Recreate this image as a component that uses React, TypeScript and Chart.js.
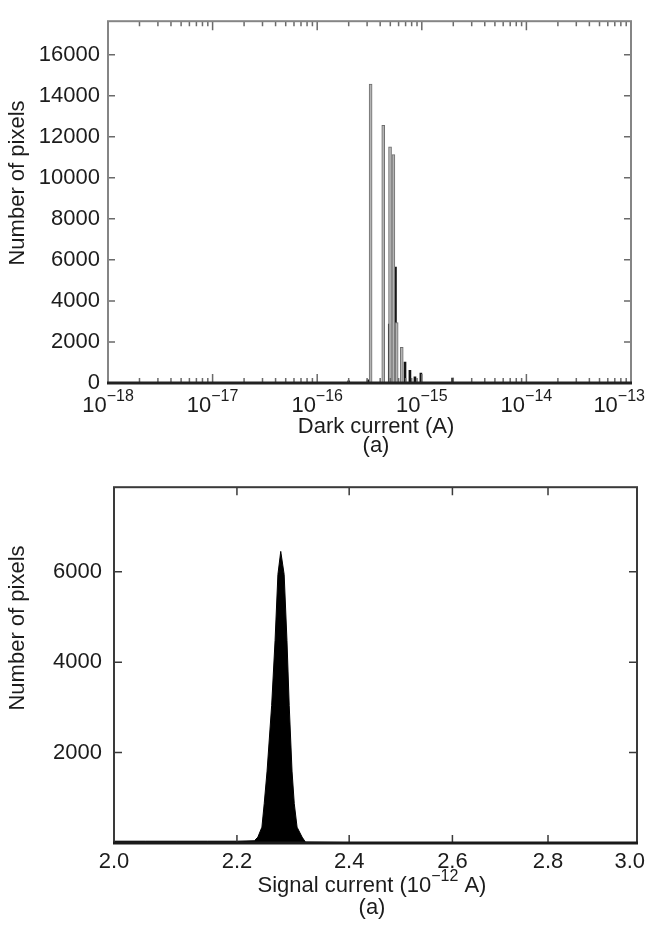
import React, { useEffect, useRef } from "react";
import { Chart, registerables } from "chart.js";

Chart.register(...registerables);

const FONT_FAMILY = "'Liberation Sans', Arial, Helvetica, sans-serif";
const TEXT_COLOR = "#1c1c1c";

// ---------- top histogram: dark current ----------
const DARK_DECADES = [-18, -17, -16, -15, -14, -13];
const DARK_Y_TICKS = [0, 2000, 4000, 6000, 8000, 10000, 12000, 14000, 16000];
const DARK_Y_MAX = 17630;
const GRAY_SPIKE_CURRENT = [3.24e-16, 4.28e-16, 4.97e-16, 5.35e-16, 5.75e-16, 6.43e-16];
const GRAY_SPIKE_PIXELS = [14560, 12550, 11510, 11130, 2940, 1740];
const BLACK_SPIKE_CURRENT = [2.0e-16, 3.06e-16, 4.89e-16, 5.6e-16, 6.91e-16, 7.7e-16, 8.6e-16, 9.8e-16, 1.97e-15];
const BLACK_SPIKE_PIXELS = [100, 150, 2870, 5650, 1020, 620, 300, 480, 240];

// ---------- bottom histogram: signal current ----------
const SIGNAL_X_TICKS = [2.0, 2.2, 2.4, 2.6, 2.8, 3.0];
const SIGNAL_Y_TICKS = [2000, 4000, 6000];
const SIGNAL_Y_MAX = 7870;
const SIGNAL_CURRENT = [2.0, 2.05, 2.1, 2.15, 2.2, 2.23, 2.236, 2.243, 2.247, 2.252, 2.26, 2.266, 2.271, 2.276, 2.282, 2.287, 2.291, 2.296, 2.3, 2.305, 2.314, 2.32, 2.4, 2.6, 2.8, 3.0];
const SIGNAL_PIXELS = [40, 40, 40, 40, 40, 50, 130, 350, 870, 1590, 3040, 4480, 5940, 6450, 5940, 4480, 3040, 1590, 870, 350, 130, 20, 10, 10, 10, 10];

type Part = { text: string; sup?: boolean };

function logTicks(decades: number[]) {
  const out: { value: number; major: boolean }[] = [];
  for (let i = 0; i < decades.length; i++) {
    const e = decades[i];
    out.push({ value: Math.pow(10, e), major: true });
    if (i < decades.length - 1) {
      for (let m = 2; m <= 9; m++) out.push({ value: m * Math.pow(10, e), major: false });
    }
  }
  return out;
}

function drawParts(
  ctx: CanvasRenderingContext2D,
  parts: Part[],
  cx: number,
  cy: number,
  size: number,
  supSize: number,
  rise: number,
  maxRight: number
) {
  const font = `${size}px ${FONT_FAMILY}`;
  const supFont = `${supSize}px ${FONT_FAMILY}`;
  let total = 0;
  const widths = parts.map((p) => {
    ctx.font = p.sup ? supFont : font;
    const w = ctx.measureText(p.text).width;
    total += w;
    return w;
  });
  let x = cx - total / 2;
  if (x + total > maxRight) x = maxRight - total;
  if (x < 2) x = 2;
  ctx.textAlign = "left";
  ctx.textBaseline = "middle";
  parts.forEach((p, i) => {
    ctx.font = p.sup ? supFont : font;
    ctx.fillText(p.text, x, p.sup ? cy - rise : cy);
    x += widths[i];
  });
}

type DecorCfg = {
  frameColor: string;
  frameWidth: number;
  baseColor: string;
  baseWidth: number;
  tickColor: string;
  majorLen: number;
  minorLen: number;
  yLen: number;
  xLabel: (t: any) => Part[] | null;
  xLabelOffset: number;
  title: Part[];
  titleX: number;
  titleOffset: number;
  subOffset: number;
  yTitleX: number;
  yTitleY: number;
};

function makeDecor(cfg: DecorCfg) {
  return {
    id: "decor",
    afterDraw(chart: any) {
      const { ctx, chartArea: a, scales } = chart;
      const xs = scales.x;
      const ys = scales.y;
      ctx.save();
      ctx.strokeStyle = cfg.tickColor;
      ctx.lineWidth = 1.5;
      ctx.beginPath();
      xs.ticks.forEach((t: any) => {
        const px = xs.getPixelForValue(t.value);
        const len = t.major ? cfg.majorLen : cfg.minorLen;
        ctx.moveTo(px, a.bottom);
        ctx.lineTo(px, a.bottom - len);
        ctx.moveTo(px, a.top);
        ctx.lineTo(px, a.top + len);
      });
      ys.ticks.forEach((t: any) => {
        const py = ys.getPixelForValue(t.value);
        ctx.moveTo(a.left, py);
        ctx.lineTo(a.left + cfg.yLen, py);
        ctx.moveTo(a.right, py);
        ctx.lineTo(a.right - cfg.yLen, py);
      });
      ctx.stroke();

      ctx.strokeStyle = cfg.frameColor;
      ctx.lineWidth = cfg.frameWidth;
      ctx.strokeRect(a.left, a.top, a.right - a.left, a.bottom - a.top);
      ctx.strokeStyle = cfg.baseColor;
      ctx.lineWidth = cfg.baseWidth;
      ctx.beginPath();
      ctx.moveTo(a.left - 1, a.bottom);
      ctx.lineTo(a.right + 1, a.bottom);
      ctx.stroke();

      ctx.fillStyle = TEXT_COLOR;
      const maxRight = chart.width - 3;
      xs.ticks.forEach((t: any) => {
        const parts = cfg.xLabel(t);
        if (!parts) return;
        drawParts(ctx, parts, xs.getPixelForValue(t.value), a.bottom + cfg.xLabelOffset, 22, 16, 9, maxRight);
      });
      drawParts(ctx, cfg.title, cfg.titleX, a.bottom + cfg.titleOffset, 22, 16, 9, maxRight);
      drawParts(ctx, [{ text: "(a)" }], cfg.titleX, a.bottom + cfg.subOffset, 22, 16, 9, maxRight);

      ctx.translate(cfg.yTitleX, cfg.yTitleY);
      ctx.rotate(-Math.PI / 2);
      ctx.textAlign = "center";
      ctx.textBaseline = "middle";
      ctx.font = `22px ${FONT_FAMILY}`;
      ctx.fillText("Number of pixels", 0, 0);
      ctx.restore();
    },
  };
}

const hiddenGrid = { display: false, drawTicks: false };

export default function App() {
  const topRef = useRef<HTMLCanvasElement | null>(null);
  const bottomRef = useRef<HTMLCanvasElement | null>(null);

  useEffect(() => {
    document.body.style.margin = "0";
    if (!topRef.current || !bottomRef.current) return;

    const top = new Chart(topRef.current, {
      type: "bar",
      data: {
        datasets: [
          {
            data: GRAY_SPIKE_CURRENT.map((x, i) => ({ x, y: GRAY_SPIKE_PIXELS[i] })),
            backgroundColor: "#b4b4b4",
            borderColor: "#6e6e6e",
            borderWidth: 1,
            barThickness: 3,
            grouped: false,
          } as any,
          {
            data: BLACK_SPIKE_CURRENT.map((x, i) => ({ x, y: BLACK_SPIKE_PIXELS[i] })),
            backgroundColor: "#141414",
            borderWidth: 0,
            barThickness: 2,
            grouped: false,
          } as any,
        ],
      },
      options: {
        responsive: false,
        animation: false,
        layout: { padding: { top: 15, right: 17, left: 0, bottom: 0 } },
        plugins: { legend: { display: false }, tooltip: { enabled: false } },
        scales: {
          x: {
            type: "logarithmic",
            min: 1e-18,
            max: 1e-13,
            grid: hiddenGrid,
            border: { display: false },
            ticks: { display: false },
            afterBuildTicks: (s: any) => {
              s.ticks = logTicks(DARK_DECADES);
            },
            afterFit: (s: any) => {
              s.height = 79;
            },
          },
          y: {
            type: "linear",
            min: 0,
            max: DARK_Y_MAX,
            bounds: "data",
            grid: hiddenGrid,
            border: { display: false },
            ticks: {
              padding: 8,
              color: TEXT_COLOR,
              font: { family: FONT_FAMILY, size: 22 },
              callback: (v: any) => String(v),
            },
            afterBuildTicks: (s: any) => {
              s.ticks = DARK_Y_TICKS.map((v) => ({ value: v }));
            },
            afterFit: (s: any) => {
              s.width = 108;
            },
          },
        },
      } as any,
      plugins: [
        makeDecor({
          frameColor: "#858585",
          frameWidth: 2,
          baseColor: "#222",
          baseWidth: 3,
          tickColor: "#6a6a6a",
          majorLen: 9,
          minorLen: 5,
          yLen: 7,
          xLabel: (t: any) =>
            t.major ? [{ text: "10" }, { text: "\u2212" + Math.abs(Math.round(Math.log10(t.value))), sup: true }] : null,
          xLabelOffset: 23,
          title: [{ text: "Dark current (A)" }],
          titleX: 376,
          titleOffset: 44,
          subOffset: 63,
          yTitleX: 18,
          yTitleY: 183,
        }),
      ],
    } as any);

    const bottom = new Chart(bottomRef.current, {
      type: "line",
      data: {
        datasets: [
          {
            data: SIGNAL_CURRENT.map((x, i) => ({ x, y: SIGNAL_PIXELS[i] })),
            borderColor: "#000",
            backgroundColor: "#000",
            borderWidth: 1,
            pointRadius: 0,
            fill: "origin",
            tension: 0,
          },
        ],
      },
      options: {
        responsive: false,
        animation: false,
        layout: { padding: { top: 19, right: 11, left: 0, bottom: 0 } },
        plugins: { legend: { display: false }, tooltip: { enabled: false } },
        scales: {
          x: {
            type: "logarithmic",
            min: 2.0,
            max: 3.0,
            grid: hiddenGrid,
            border: { display: false },
            ticks: { display: false },
            afterBuildTicks: (s: any) => {
              s.ticks = SIGNAL_X_TICKS.map((v) => ({ value: v, major: true }));
            },
            afterFit: (s: any) => {
              s.height = 82;
            },
          },
          y: {
            type: "linear",
            min: 0,
            max: SIGNAL_Y_MAX,
            bounds: "data",
            grid: hiddenGrid,
            border: { display: false },
            ticks: {
              padding: 12,
              color: TEXT_COLOR,
              font: { family: FONT_FAMILY, size: 22 },
              callback: (v: any) => String(v),
            },
            afterBuildTicks: (s: any) => {
              s.ticks = SIGNAL_Y_TICKS.map((v) => ({ value: v }));
            },
            afterFit: (s: any) => {
              s.width = 114;
            },
          },
        },
      } as any,
      plugins: [
        makeDecor({
          frameColor: "#3a3a3a",
          frameWidth: 2,
          baseColor: "#1a1a1a",
          baseWidth: 3,
          tickColor: "#3a3a3a",
          majorLen: 8,
          minorLen: 8,
          yLen: 8,
          xLabel: (t: any) => [{ text: t.value.toFixed(1) }],
          xLabelOffset: 19,
          title: [{ text: "Signal current (10" }, { text: "\u221212", sup: true }, { text: " A)" }],
          titleX: 372,
          titleOffset: 43,
          subOffset: 65,
          yTitleX: 18,
          yTitleY: 166,
        }),
      ],
    } as any);

    return () => {
      top.destroy();
      bottom.destroy();
    };
  }, []);

  return (
    <div style={{ width: 648, background: "#fff" }}>
      <canvas ref={topRef} width={648} height={462} style={{ display: "block" }} />
      <canvas ref={bottomRef} width={648} height={463} style={{ display: "block" }} />
    </div>
  );
}
